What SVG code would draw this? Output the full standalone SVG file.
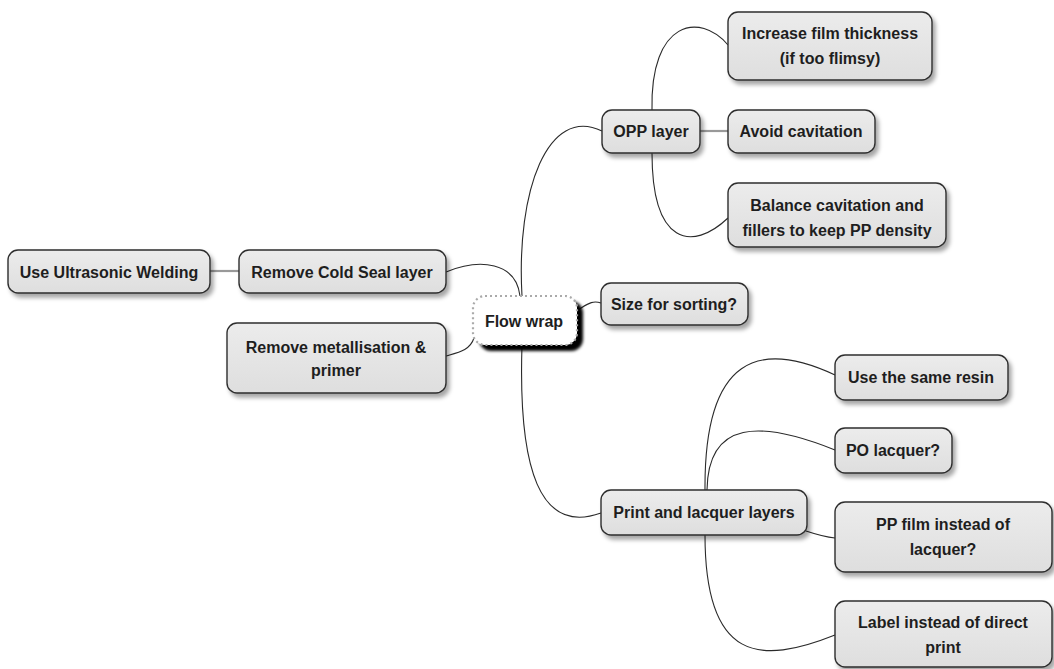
<svg xmlns="http://www.w3.org/2000/svg" width="1054" height="669" viewBox="0 0 1054 669">
<style>
.n rect.b{fill:url(#g);stroke:#2e2e2e;stroke-width:1.4;filter:url(#sh)}
.t{font-family:"Liberation Sans",Arial,sans-serif;font-weight:bold;font-size:16px;fill:#1e1e1e;text-anchor:middle}
.c{fill:none;stroke:#2a2a2a;stroke-width:1.1}
.s{fill:none;stroke:#999;stroke-width:2.2}
</style>
<defs>
<linearGradient id="g" x1="0" y1="0" x2="0" y2="1"><stop offset="0" stop-color="#ececec"/><stop offset="1" stop-color="#dedede"/></linearGradient>
<filter id="sh" x="-10%" y="-20%" width="130%" height="160%"><feDropShadow dx="3" dy="4" stdDeviation="2.2" flood-color="#000" flood-opacity="0.35"/></filter>
<filter id="bl" x="-10%" y="-20%" width="130%" height="160%"><feGaussianBlur stdDeviation="1.8"/></filter>
</defs>
<rect width="1054" height="669" fill="#fff"/>
<g id="connectors">
<path class="c" d="M522,296 C516,190 548,105 602,131"/>
<path class="c" d="M576,311 C588,304 592,300 601,303"/>
<path class="c" d="M522,345 C518,470 540,535 601,513"/>
<path class="c" d="M446,272 C480,258 516,262 520,296"/>
<path class="c" d="M446,356 C460,352 470,350 474,338"/>
<path class="s" d="M210,271 L239,271"/>
<path class="s" d="M700,131 L728,131"/>
<path class="c" d="M652,110 C650,20 700,12 728,45"/>
<path class="c" d="M652,153 C652,245 692,252 728,218"/>
<path class="c" d="M705,490 C704,355 760,340 835,375"/>
<path class="c" d="M707,490 C708,420 760,420 835,450"/>
<path class="c" d="M806,531 C818,535 825,537 835,538"/>
<path class="c" d="M705,535 C705,662 760,665 835,635"/>
</g>
<g id="flow-wrap">
<rect x="479" y="301" width="104" height="50" rx="12" fill="#000" filter="url(#bl)"/>
<rect x="473" y="296" width="104" height="49" rx="12" fill="#fff" stroke="#aaa" stroke-width="2.2" stroke-dasharray="2,3"/>
<text class="t" x="524" y="327">Flow wrap</text>
</g>
<g id="opp-layer" class="n"><rect class="b" x="602" y="110" width="98" height="43" rx="10"/><text class="t" x="651" y="137">OPP layer</text></g>
<g id="increase-film" class="n"><rect class="b" x="728" y="12" width="204" height="68" rx="10"/><text class="t" x="830" y="39">Increase film thickness</text><text class="t" x="830" y="64">(if too flimsy)</text></g>
<g id="avoid-cavitation" class="n"><rect class="b" x="728" y="110" width="147" height="43" rx="10"/><text class="t" x="801" y="137">Avoid cavitation</text></g>
<g id="balance" class="n"><rect class="b" x="728" y="183" width="218" height="64" rx="10"/><text class="t" x="837" y="211">Balance cavitation and</text><text class="t" x="837" y="236">fillers to keep PP density</text></g>
<g id="size-sorting" class="n"><rect class="b" x="601" y="283" width="147" height="42" rx="10"/><text class="t" x="674" y="310">Size for sorting?</text></g>
<g id="ultrasonic" class="n"><rect class="b" x="8" y="250" width="202" height="43" rx="10"/><text class="t" x="109" y="278">Use Ultrasonic Welding</text></g>
<g id="cold-seal" class="n"><rect class="b" x="239" y="250" width="207" height="43" rx="10"/><text class="t" x="342" y="278">Remove Cold Seal layer</text></g>
<g id="metallisation" class="n"><rect class="b" x="227" y="323" width="219" height="70" rx="10"/><text class="t" x="336" y="353">Remove metallisation &amp;</text><text class="t" x="336" y="376">primer</text></g>
<g id="print-lacquer" class="n"><rect class="b" x="601" y="490" width="206" height="45" rx="10"/><text class="t" x="704" y="518">Print and lacquer layers</text></g>
<g id="same-resin" class="n"><rect class="b" x="835" y="355" width="173" height="45" rx="10"/><text class="t" x="921" y="383">Use the same resin</text></g>
<g id="po-lacquer" class="n"><rect class="b" x="835" y="428" width="117" height="45" rx="10"/><text class="t" x="893" y="456">PO lacquer?</text></g>
<g id="pp-film" class="n"><rect class="b" x="835" y="502" width="217" height="70" rx="10"/><text class="t" x="943" y="530">PP film instead of</text><text class="t" x="943" y="555">lacquer?</text></g>
<g id="label" class="n"><rect class="b" x="835" y="601" width="217" height="66" rx="10"/><text class="t" x="943" y="628">Label instead of direct</text><text class="t" x="943" y="653">print</text></g>
</svg>
